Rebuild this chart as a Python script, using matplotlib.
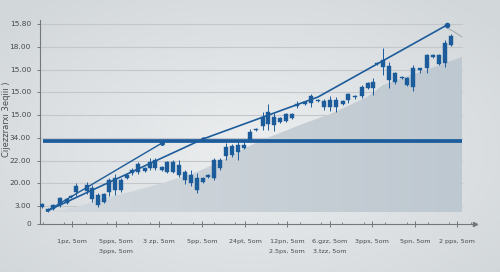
import numpy as np
import matplotlib
matplotlib.use('Agg')
import matplotlib.pyplot as plt
from matplotlib.ticker import FixedLocator, MultipleLocator

# candle times (x) and prices
t = [42, 48, 53, 60, 67, 71, 76, 87, 92, 98, 104, 109, 115, 121, 127, 132, 138, 145, 150, 155,
     162, 167, 173, 179, 185, 191, 197, 203, 208, 214, 220, 226, 232, 238, 244, 250, 256, 263, 268, 274,
     280, 286, 292, 297, 305, 311, 318, 324, 330, 336, 343, 348, 355, 362, 368, 373, 377, 383, 389, 395,
     402, 407, 413, 420, 427, 433, 439, 445, 451]
body_hi = [2.0, 1.5, 1.9, 2.6, 2.5, 2.8, 3.8, 3.9, 3.6, 2.9, 3.0, 4.4, 4.6, 4.4, 4.9, 5.4, 6.0, 5.6, 6.2, 6.4,
           5.7, 6.2, 6.2, 5.9, 5.2, 4.9, 4.6, 4.6, 4.9, 6.4, 6.4, 7.7, 7.8, 7.9, 7.9, 9.2, 9.5, 10.7, 11.2, 10.7,
           10.6, 11.0, 11.0, 12.0, 12.2, 12.8, 12.4, 12.3, 12.4, 12.4, 12.3, 13.0, 12.8, 13.7, 14.1, 14.2, 16.1, 16.4, 15.8, 15.1,
           14.7, 14.6, 15.6, 15.6, 16.9, 16.9, 16.9, 18.1, 18.8]
body_lo = [1.7, 1.3, 1.5, 1.9, 2.1, 2.7, 3.2, 3.3, 2.5, 1.9, 2.2, 3.2, 3.4, 3.4, 4.6, 5.1, 5.2, 5.3, 5.6, 5.6,
           5.4, 5.2, 5.2, 4.9, 4.4, 4.1, 3.4, 4.2, 4.7, 4.6, 5.6, 6.8, 6.9, 7.2, 7.6, 8.3, 9.4, 9.8, 10.0, 9.9,
           10.2, 10.3, 10.6, 11.8, 12.0, 12.1, 12.3, 11.7, 11.7, 11.7, 12.0, 12.4, 12.7, 12.8, 13.6, 13.6, 16.0, 15.7, 14.4, 14.2,
           14.6, 13.9, 13.7, 15.4, 15.6, 16.7, 16.0, 16.1, 17.9]
wick_hi = [2.1, 1.6, 2.0, 2.7, 2.6, 2.9, 4.1, 4.2, 3.9, 3.1, 3.1, 4.6, 5.0, 4.6, 5.0, 5.6, 6.2, 5.7, 6.6, 6.6,
           5.8, 6.3, 6.4, 6.4, 5.4, 5.4, 5.1, 4.7, 5.0, 6.6, 6.6, 8.1, 8.0, 8.4, 8.4, 9.5, 9.6, 11.2, 12.0, 11.1,
           10.7, 11.1, 11.1, 12.3, 12.3, 13.0, 12.5, 12.5, 12.8, 12.7, 12.4, 13.1, 12.9, 13.9, 14.2, 14.6, 16.2, 17.6, 16.2, 15.2,
           14.8, 14.7, 15.9, 15.6, 17.0, 17.0, 17.0, 18.4, 19.0]
wick_lo = [1.6, 1.2, 1.4, 1.7, 2.0, 2.6, 2.8, 3.0, 2.2, 1.7, 2.1, 2.8, 2.9, 3.2, 4.5, 4.9, 5.0, 5.2, 5.4, 5.4,
           5.3, 5.1, 5.1, 4.7, 4.0, 3.8, 3.1, 4.1, 4.6, 4.4, 5.4, 6.4, 6.7, 6.4, 7.5, 8.2, 9.3, 9.4, 9.4, 9.3,
           10.1, 10.2, 10.5, 11.6, 11.9, 11.7, 12.2, 11.4, 11.3, 11.2, 11.9, 12.1, 12.5, 12.6, 13.5, 12.9, 15.9, 14.9, 13.6, 14.0,
           14.5, 13.8, 13.3, 15.1, 15.1, 16.6, 15.9, 15.7, 17.8]

# shaded area under the price
area_t = [45, 60, 80, 97, 130, 163, 197, 217, 247, 267, 280, 300, 333, 367, 383, 417, 440, 462]
area_v = [1.2, 1.4, 1.8, 2.4, 3.2, 4.1, 5.2, 6.1, 7.7, 8.6, 9.1, 9.9, 11.1, 12.7, 13.9, 15.1, 15.9, 16.7]
area_base = 1.2

level = 8.3
trend1_t = [47, 203, 318, 447]
trend1_v = [1.3, 8.5, 12.7, 19.9]
trend2_t = [47, 162]
trend2_v = [1.3, 8.1]
tail_t = [447, 453, 462]
tail_v = [19.6, 19.3, 18.7]

ytick_pos = [0, 1.8, 4.1, 6.3, 8.6, 10.9, 13.2, 15.4, 17.7, 20.0]
ytick_lbl = ['0', '3.00', '20.00', '22.00', '34.00', '15.00', '15.00', '15.00', '18.00', '15.80']
xtick_pos = [72, 116, 159, 202, 245, 287, 330, 372, 415, 457]
xtick_lbl = ['1pz, 5om', '5pps, 5om\n3pps, 5om', '3 zp, 5om', '5pp, 5om', '24pt, 5om',
             '12pn, 5om\n2.5ps, 5om', '6.gzz, 5om\n3.tzz, 5om', '3pps, 5om', '5pn, 5om', '2 pps, 5om']
ylabel = 'Cijezzrarxı 3eqiiı )'

blue = '#1d5c9b'
grid_end = 462

fig = plt.figure(figsize=(5.0, 2.72), dpi=100)

# soft radial background
bg = fig.add_axes([0, 0, 1, 1], zorder=-1)
yy, xx = np.mgrid[0:1:200j, 0:1:300j]
r = np.sqrt(((xx - 0.5) / 0.75) ** 2 + ((yy - 0.55) / 0.8) ** 2)
bg.imshow(r, cmap=matplotlib.colors.LinearSegmentedColormap.from_list('bg', ['#eceeef', '#d2d7da']),
          extent=[0, 1, 0, 1], aspect='auto', vmin=0, vmax=0.9)
bg.axis('off')

ax = fig.add_axes([0.08, 0.1765, 0.87, 0.75])
ax.set_facecolor('none')
ax.set_xlim(40, 475)
ax.set_ylim(0, 20.4)

# grid lines (stop short of the right edge)
for y in ytick_pos[1:]:
    ax.plot([40, grid_end], [y, y], color='#c3c7cb', lw=0.8, zorder=1)

# shaded area with horizontal gradient
poly = ax.fill_between(area_t, area_base, area_v, color='none', lw=0, zorder=2)
grad = np.linspace(0, 1, 256).reshape(1, -1)
im = ax.imshow(grad, cmap=matplotlib.colors.LinearSegmentedColormap.from_list('ar', ['#d3d9de', '#bec8d0']),
               extent=[40, grid_end, area_base, 20], aspect='auto', zorder=2)
im.set_clip_path(poly.get_paths()[0], transform=ax.transData)

# level line
ax.plot([43, grid_end], [level, level], color=blue, lw=2.7, solid_capstyle='butt', zorder=4)

# trend lines
ax.plot(trend2_t, trend2_v, color=blue, lw=1.0, zorder=5)
ax.plot(trend1_t, trend1_v, color=blue, lw=1.2, zorder=5)
ax.plot(trend2_t[-1], trend2_v[-1], 'o', color=blue, ms=2.5, zorder=6)
ax.plot(trend1_t[1], trend1_v[1], 'o', color=blue, ms=2.2, zorder=6)
ax.plot(trend1_t[-1], trend1_v[-1], 'o', color=blue, ms=3, zorder=6)
ax.plot(tail_t, tail_v, color='#9aa0a6', lw=0.6, zorder=3)

# candles
for x, bh, bl, wh, wl in zip(t, body_hi, body_lo, wick_hi, wick_lo):
    ax.vlines(x, wl, wh, color=blue, lw=0.7, zorder=6)
    ax.bar(x, bh - bl, bottom=bl, width=3.8, color=blue, edgecolor=blue, lw=0.3, zorder=7)

# axes styling
for s in ['top', 'right']:
    ax.spines[s].set_visible(False)
ax.spines['left'].set_color('#73787d')
ax.spines['bottom'].set_color('#73787d')
ax.spines['left'].set_linewidth(0.8)
ax.spines['bottom'].set_linewidth(0.8)
ax.plot(1, 0, '>', color='#73787d', ms=3, transform=ax.transAxes, clip_on=False)

ax.yaxis.set_major_locator(FixedLocator(ytick_pos))
ax.set_yticklabels(ytick_lbl, fontsize=5.3, color='#45494d')
ax.tick_params(axis='y', length=2.5, width=0.7, color='#73787d', pad=4)

ax.xaxis.set_major_locator(FixedLocator(xtick_pos))
ax.set_xticklabels(xtick_lbl, fontsize=4.6, color='#45494d', linespacing=2.4, va='top')
ax.xaxis.set_minor_locator(MultipleLocator(21.4))
ax.tick_params(axis='x', which='major', direction='inout', length=5, width=0.7, color='#73787d', pad=8)
ax.tick_params(axis='x', which='minor', direction='in', length=1.5, width=0.6, color='#73787d')

fig.text(0.014, 0.56, ylabel, rotation=90, fontsize=6, color='#4a4e52', va='center', ha='center')

fig.savefig('out.png', dpi=100)
